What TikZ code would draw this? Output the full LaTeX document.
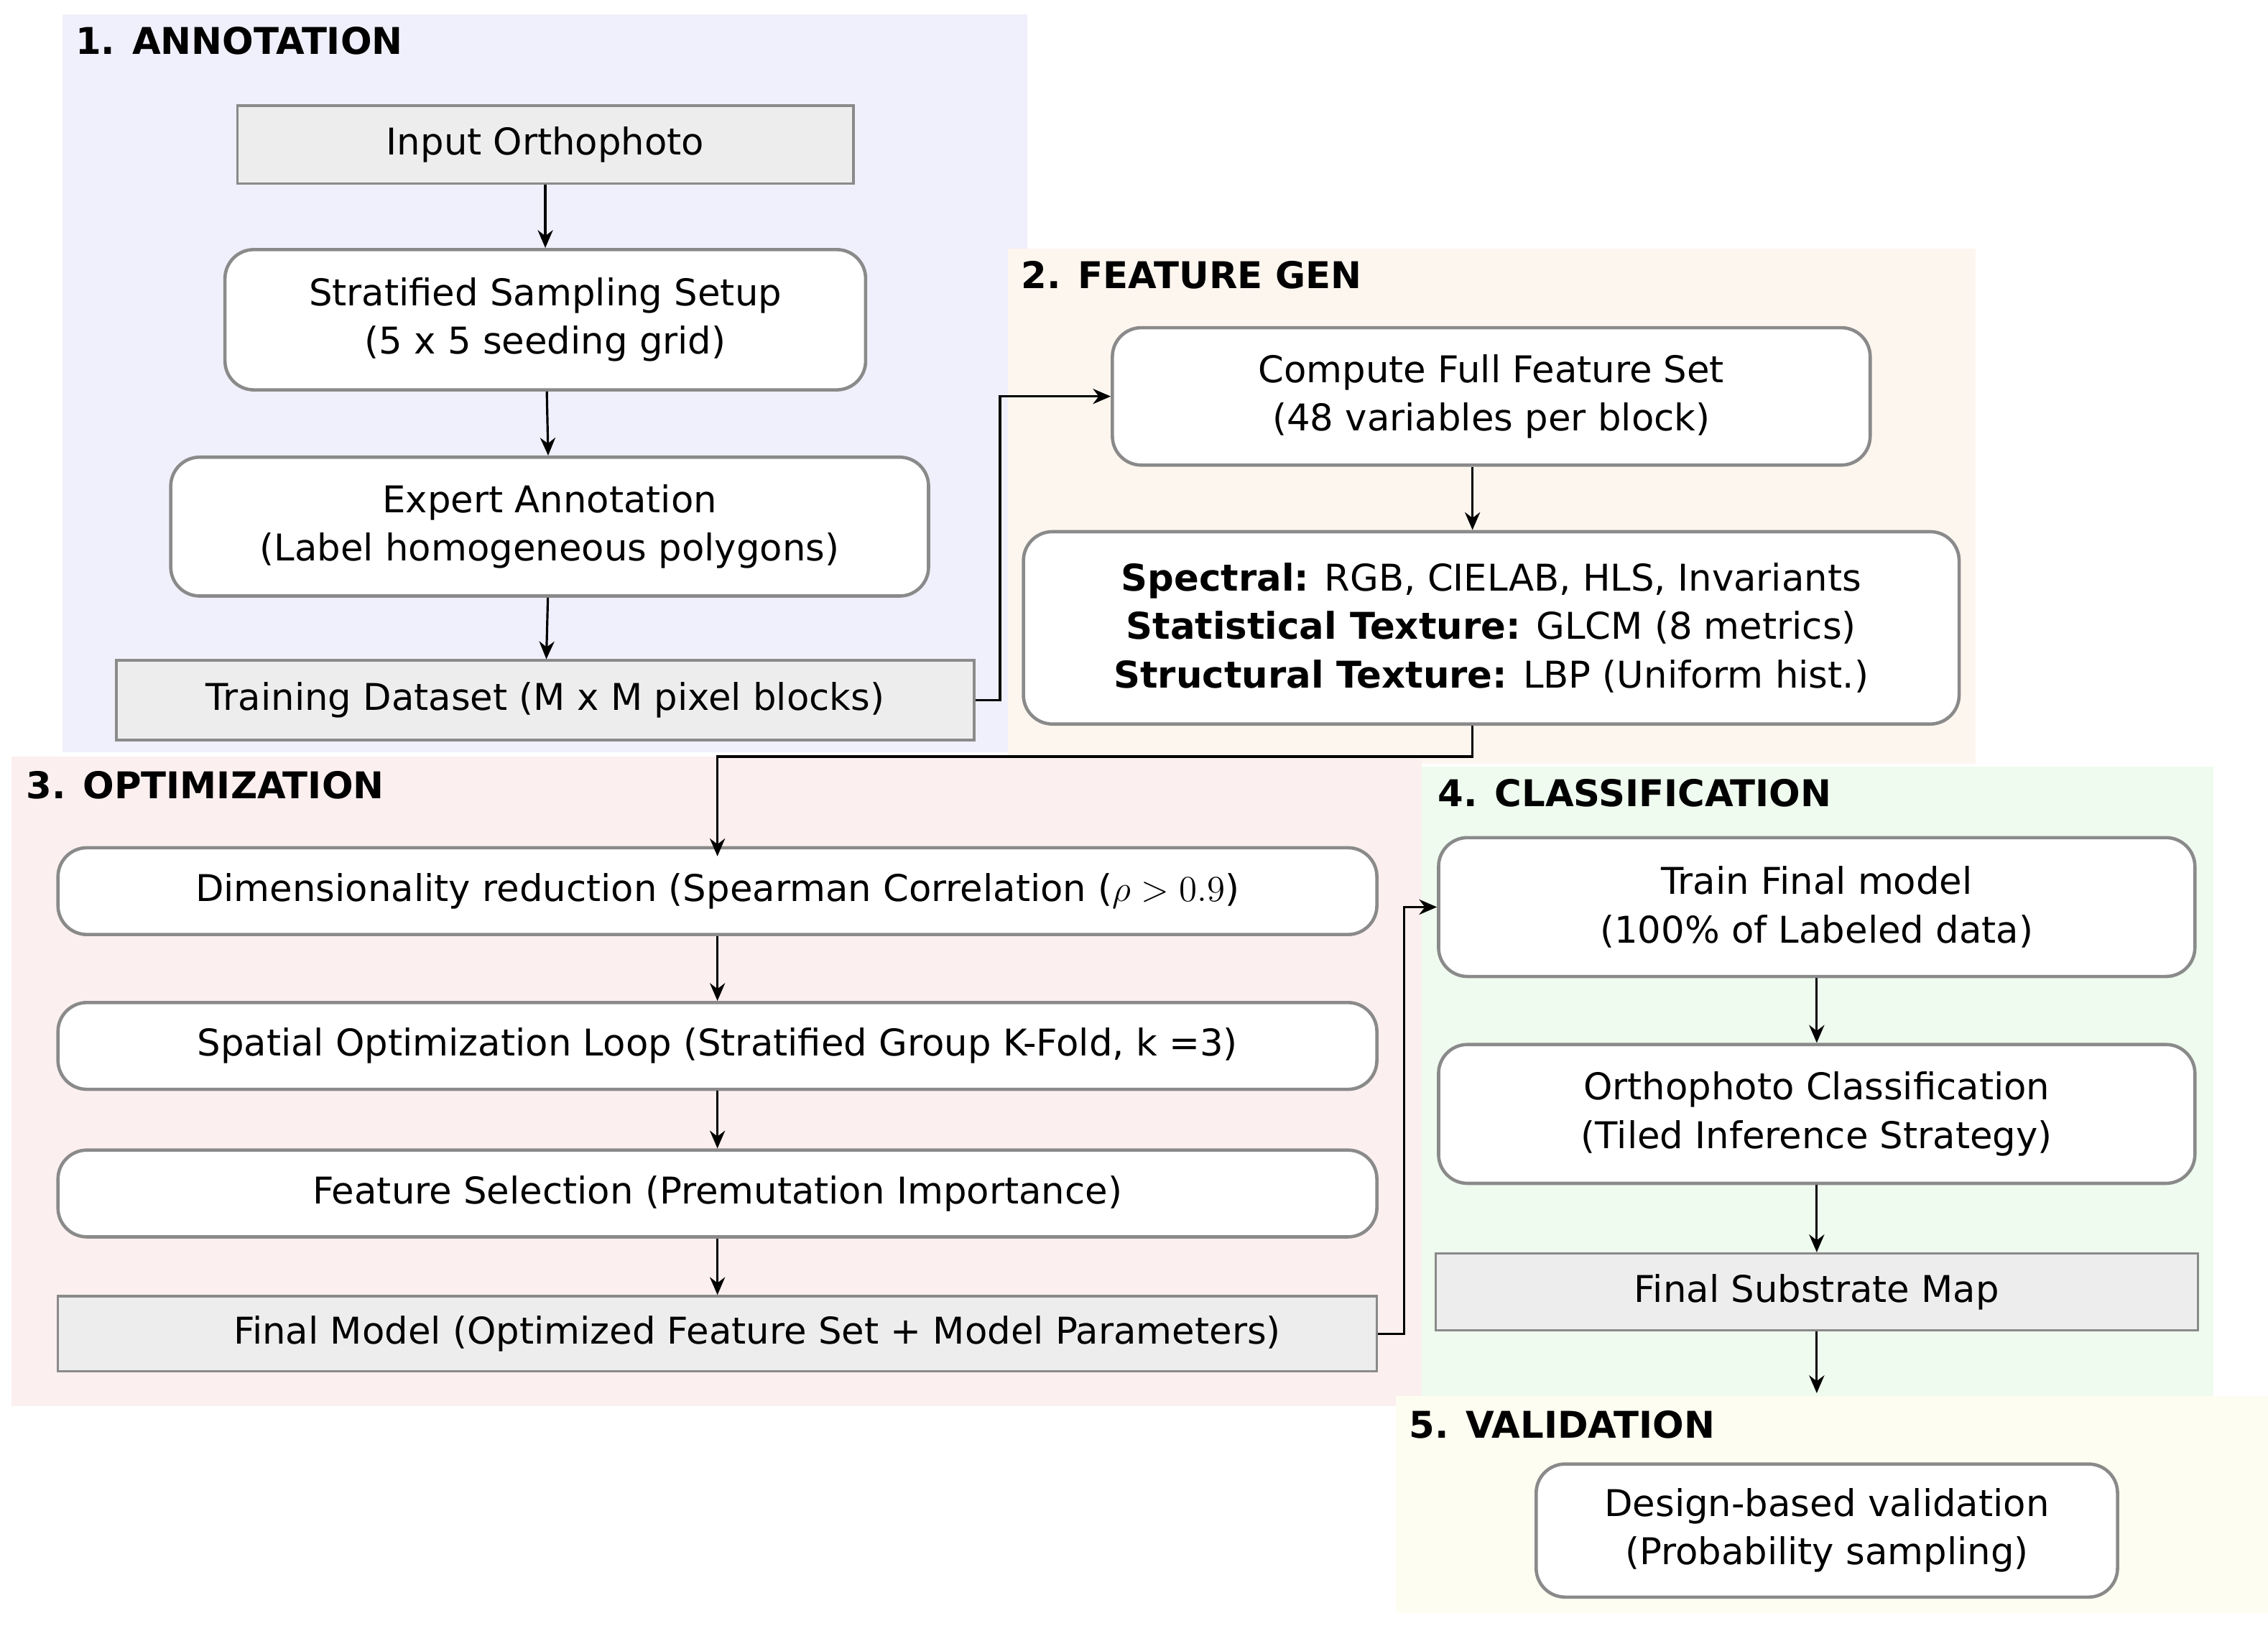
\documentclass[tikz,border=0pt]{standalone}
\usepackage{fontspec}
\setmainfont{DejaVu Sans}
\usetikzlibrary{arrows.meta, positioning}
\definecolor{bgA}{HTML}{F0F0FC}
\definecolor{bgB}{HTML}{FDF6EF}
\definecolor{bgC}{HTML}{FCEFEF}
\definecolor{bgD}{HTML}{EFFBEF}
\definecolor{bgE}{HTML}{FDFDF1}
\definecolor{boxline}{HTML}{8A8A8A}
\tikzset{
  procbox/.style={draw=boxline, line width=1.3pt, rounded corners=0.4cm, fill=white, align=center, font=\fontsize{14.5}{19}\selectfont, inner sep=0pt},
  databox/.style={draw=boxline, line width=1pt, fill=black!7, align=center, font=\fontsize{14.5}{19}\selectfont, inner sep=0pt},
  stage/.style={anchor=west, font=\fontsize{14.5}{18}\selectfont\bfseries},
  flow/.style={-{Stealth[length=7pt,width=6pt]}, line width=0.9pt}
}
\begin{document}
\begin{tikzpicture}[x=0.02cm, y=-0.02cm]
\useasboundingbox (0,0) rectangle (1568,1127);
% stage backgrounds
\fill[bgA] (43,10) rectangle (710,520);
\fill[bgB] (697,172) rectangle (1366,528);
\fill[bgC] (8,523) rectangle (983,972);
\fill[bgD] (983,530) rectangle (1530,965);
\fill[bgE] (965,965) rectangle (1568,1115);
\node[stage] (tA) at (46,28) {1. ANNOTATION};
\node[stage] (tB) at (700,190) {2. FEATURE GEN};
\node[stage] (tC) at (12,543) {3. OPTIMIZATION};
\node[stage] (tD) at (988,548) {4. CLASSIFICATION};
\node[stage] (tE) at (968,985) {5. VALIDATION};
% annotation
\node[databox, minimum width=8.52cm, minimum height=1.08cm] (input) at (377,100) {Input Orthophoto};
\node[procbox, minimum width=8.86cm, minimum height=1.94cm] (sampling) at (377,221) {Stratified Sampling Setup\\(5 x 5 seeding grid)};
\node[procbox, minimum width=10.48cm, minimum height=1.92cm] (expert) at (380,364) {Expert Annotation\\(Label homogeneous polygons)};
\node[databox, minimum width=11.86cm, minimum height=1.1cm] (dataset) at (377,484) {Training Dataset (M x M pixel blocks)};
% feature generation
\node[procbox, minimum width=10.48cm, minimum height=1.9cm] (compute) at (1031,274) {Compute Full Feature Set\\(48 variables per block)};
\node[procbox, minimum width=12.94cm, minimum height=2.66cm] (features) at (1031,434) {\textbf{Spectral:} RGB, CIELAB, HLS, Invariants\\\textbf{Statistical Texture:} GLCM (8 metrics)\\\textbf{Structural Texture:} LBP (Uniform hist.)};
% optimization
\node[procbox, minimum width=18.24cm, minimum height=1.2cm] (dimred) at (496,616) {Dimensionality reduction (Spearman Correlation ($\rho>0.9$)};
\node[procbox, minimum width=18.24cm, minimum height=1.2cm] (spatial) at (496,723) {Spatial Optimization Loop (Stratified Group K-Fold, k =3)};
\node[procbox, minimum width=18.24cm, minimum height=1.2cm] (select) at (496,825) {Feature Selection (Premutation Importance)};
\node[databox, minimum width=18.24cm, minimum height=1.04cm] (model) at (496,922) {\hspace{1.1cm}Final Model (Optimized Feature Set + Model Parameters)};
% classification
\node[procbox, minimum width=10.46cm, minimum height=1.92cm] (trainfin) at (1256,627) {Train Final model\\(100\% of Labeled data)};
\node[procbox, minimum width=10.46cm, minimum height=1.92cm] (classify) at (1256,770) {Orthophoto Classification\\(Tiled Inference Strategy)};
\node[databox, minimum width=10.54cm, minimum height=1.06cm] (map) at (1256,893) {Final Substrate Map};
% validation
\node[procbox, minimum width=8.04cm, minimum height=1.84cm] (design) at (1263,1058) {Design-based validation\\(Probability sampling)};
\coordinate (valtop) at (1256,963);
% connectors
\draw[flow] (input) -- (sampling);
\draw[flow] (sampling) -- (expert);
\draw[flow] (expert) -- (dataset);
\draw[flow] (dataset.east) -- ++(17,0) |- (compute.west);
\draw[flow] (compute.south -| 1018,0) -- (features.north -| 1018,0);
\draw[flow] (features.south -| 1018,0) -- (1018,523) -| ([yshift=-4]dimred.north);
\draw[flow] (dimred) -- (spatial);
\draw[flow] (spatial) -- (select);
\draw[flow] (select) -- (model);
\draw[flow] (model.east) -- ++(18,0) |- (trainfin.west);
\draw[flow] (trainfin) -- (classify);
\draw[flow] (classify) -- (map);
\draw[flow] (map) -- (valtop);
\end{tikzpicture}
\end{document}
